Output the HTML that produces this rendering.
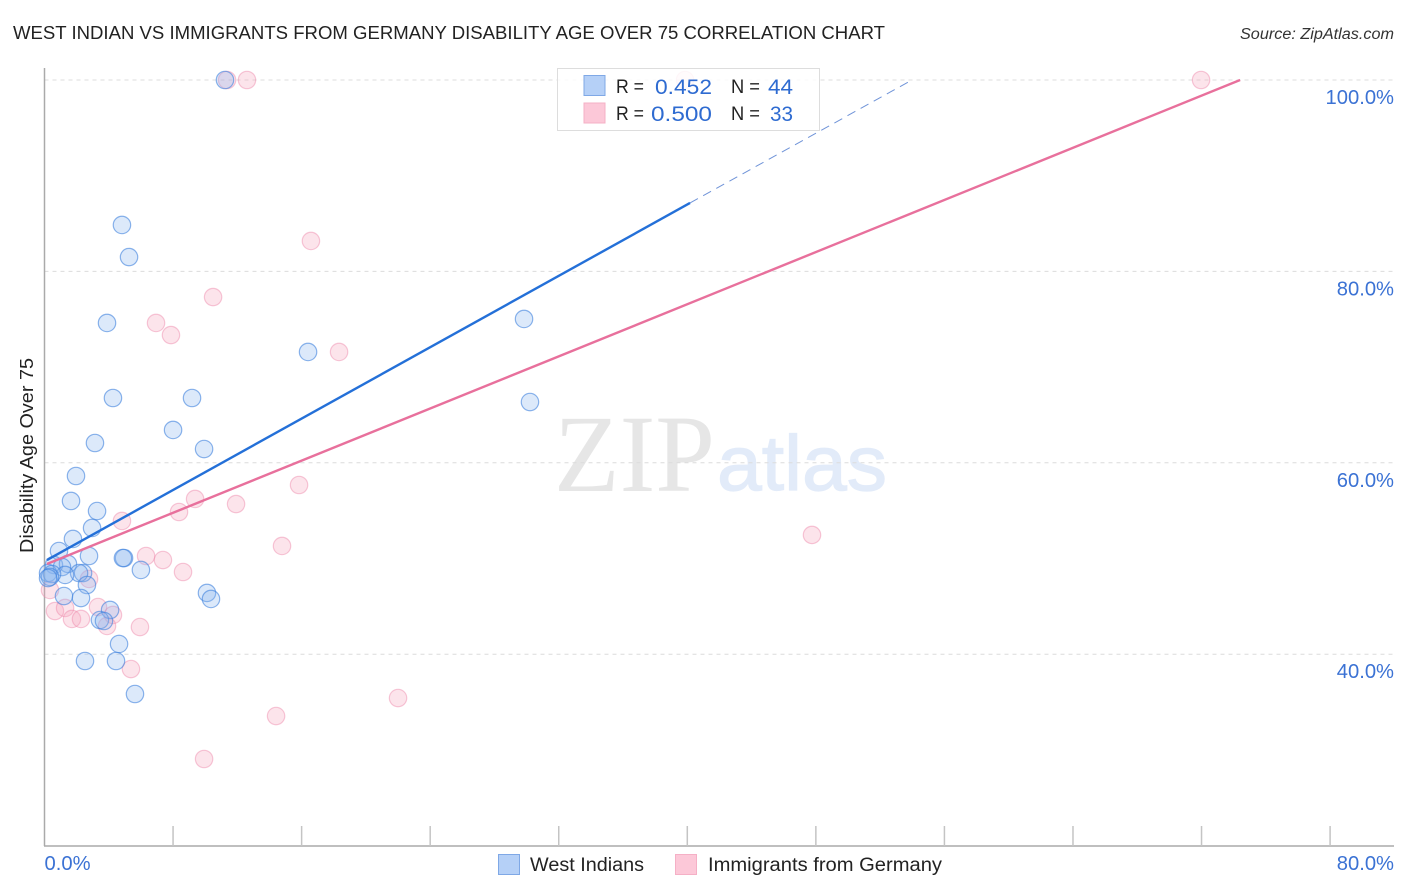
<!DOCTYPE html>
<html lang="en">
<head>
<meta charset="utf-8">
<title>West Indian vs Immigrants from Germany Disability Age Over 75 Correlation Chart</title>
<style>
html,body{margin:0;padding:0;background:#fff;width:1406px;height:892px;overflow:hidden}
svg{display:block;font-family:"Liberation Sans",sans-serif}
</style>
</head>
<body>
<svg id="chart" width="1406" height="892" viewBox="0 0 1406 892" xmlns="http://www.w3.org/2000/svg">
  <text x="13" y="39" font-size="18.5" fill="#222" textLength="872" lengthAdjust="spacingAndGlyphs">WEST INDIAN VS IMMIGRANTS FROM GERMANY DISABILITY AGE OVER 75 CORRELATION CHART</text>
  <text x="1394" y="39" font-size="15.5" font-style="italic" fill="#333" text-anchor="end" textLength="154" lengthAdjust="spacingAndGlyphs">Source: ZipAtlas.com</text>
  <g>
    <text x="554" y="491" font-family="'Liberation Serif',serif" font-size="110" fill="#e6e6e6" textLength="161" lengthAdjust="spacingAndGlyphs">ZIP</text>
    <text x="717" y="490" font-size="78" fill="#e2ebf9" stroke="#e2ebf9" stroke-width="1.2" textLength="170" lengthAdjust="spacingAndGlyphs">atlas</text>
  </g>
  <g id="grid"></g>
  <g id="axes"></g>
  <g id="pink-points"></g>
  <g id="blue-points"></g>
  <g id="trends"></g>
  <text transform="translate(33,553) rotate(-90)" font-size="18" fill="#222" textLength="195" lengthAdjust="spacingAndGlyphs">Disability Age Over 75</text>
  <g id="tick-labels"></g>
  <g>
    <rect x="557.5" y="68.5" width="262" height="62" fill="#fff" fill-opacity="0.85" stroke="#ddd" stroke-width="1"/>
    <rect x="584" y="75.5" width="21" height="20" fill="#b5d0f7" stroke="#7fa8e6"/>
    <rect x="584" y="103" width="21" height="20" fill="#fcc8d8" stroke="#f5b0c6"/>
    <text x="616" y="93" font-size="19" fill="#222" textLength="28" lengthAdjust="spacingAndGlyphs">R =</text>
    <text x="655" y="94" font-size="21" fill="#2e6bd1" textLength="57" lengthAdjust="spacingAndGlyphs">0.452</text>
    <text x="731" y="93" font-size="19" fill="#222" textLength="29" lengthAdjust="spacingAndGlyphs">N =</text>
    <text x="768" y="94" font-size="21" fill="#2e6bd1" textLength="25" lengthAdjust="spacingAndGlyphs">44</text>
    <text x="616" y="120" font-size="19" fill="#222" textLength="28" lengthAdjust="spacingAndGlyphs">R =</text>
    <text x="651" y="121" font-size="21" fill="#2e6bd1" textLength="61" lengthAdjust="spacingAndGlyphs">0.500</text>
    <text x="731" y="120" font-size="19" fill="#222" textLength="29" lengthAdjust="spacingAndGlyphs">N =</text>
    <text x="770" y="121" font-size="21" fill="#2e6bd1" textLength="23" lengthAdjust="spacingAndGlyphs">33</text>
  </g>
  <g>
    <rect x="498.5" y="854.5" width="21" height="20" fill="#b5d0f7" stroke="#7fa8e6"/>
    <text x="530" y="871" font-size="19" fill="#222" textLength="114" lengthAdjust="spacingAndGlyphs">West Indians</text>
    <rect x="675.5" y="854.5" width="21" height="20" fill="#fcc8d8" stroke="#f5b0c6"/>
    <text x="708" y="871" font-size="19" fill="#222" textLength="234" lengthAdjust="spacingAndGlyphs">Immigrants from Germany</text>
  </g>
</svg>
<script>
const yTickValues = [100, 80, 60, 40];
const yTickLabels = ['100.0%', '80.0%', '60.0%', '40.0%'];
const xTickValues = [8, 16, 24, 32, 40, 48, 56, 64, 72, 80];
const xEndValues = [0, 80];
const xEndLabels = ['0.0%', '80.0%'];

const blueX = [4.82,5.26,3.89,4.26,9.18,8.0,3.14,9.93,1.96,1.65,3.27,2.96,1.77,0.90,2.77,4.95,4.88,6.0,0.59,1.46,1.09,2.40,2.15,1.28,0.22,0.47,0.34,0.22,2.64,10.11,10.36,1.21,2.27,4.08,3.45,3.70,4.64,2.52,4.45,5.63,16.40,29.84,30.21,11.23];
const blueY = [84.85,81.5,74.61,66.77,66.77,63.43,62.07,61.44,58.62,56.01,54.96,53.19,52.04,50.78,50.26,50.05,50.05,48.8,49.32,49.43,49.11,48.48,48.48,48.28,48.48,48.38,48.07,47.96,47.23,46.4,45.77,46.08,45.87,44.62,43.57,43.47,41.07,39.29,39.29,35.84,71.58,75.03,66.35,100];

const pinkX = [11.36,12.6,71.97,39.86,16.58,10.49,6.94,7.87,18.33,9.37,15.84,11.92,8.37,4.82,6.32,7.37,8.62,14.78,47.76,2.77,0.34,0.65,1.28,1.71,2.27,3.33,4.26,3.89,5.94,5.38,14.41,22.0,9.93];
const pinkY = [100,100,100,100,83.18,77.32,74.61,73.35,71.58,56.22,57.68,55.69,54.86,53.92,50.26,49.84,48.59,51.31,52.46,47.86,46.71,44.51,44.83,43.68,43.68,44.93,44.1,42.95,42.84,38.45,33.54,35.42,29.05];

const blueTrendX = [0.15, 40.17];
const blueTrendY = [49.84, 87.15];
const blueDashX = [40.17, 53.98];
const blueDashY = [87.15, 100];
const pinkTrendX = [0.15, 74.4];
const pinkTrendY = [49.43, 100];

const NS = 'http://www.w3.org/2000/svg';
function xScale(v) { return 44.5 + v * 16.07; }
function yScale(v) { return 80 + (100 - v) * 9.57; }
function make(parentId, tag, attrs) {
  const el = document.createElementNS(NS, tag);
  for (const k in attrs) el.setAttribute(k, attrs[k]);
  document.getElementById(parentId).appendChild(el);
  return el;
}

yTickValues.forEach(function (v) {
  const el = make('grid', 'line', {x1: 44.5, x2: 1393, y1: yScale(v), y2: yScale(v), stroke: '#dcdcdc', 'stroke-width': 1, 'stroke-dasharray': '4 4'});
  
  
});

const axisY = make('axes', 'line', {x1: 44.5, x2: 44.5, y1: 68, y2: 846, stroke: '#aaa', 'stroke-width': 1.5});


const axisX = make('axes', 'line', {x1: 44, x2: 1394, y1: 846, y2: 846, stroke: '#aaa', 'stroke-width': 1.5});


xTickValues.forEach(function (v) {
  const el = make('axes', 'line', {x1: xScale(v), x2: xScale(v), y1: 826, y2: 846, stroke: '#c4c4c4', 'stroke-width': 1.5});
  
  
});

yTickValues.forEach(function (v, i) {
  const el = make('tick-labels', 'text', {x: 1394, y: yScale(v) + 24, 'text-anchor': 'end', 'font-size': 20.2, fill: '#3b72d4'});
  el.textContent = yTickLabels[i];
  
  
});
xEndValues.forEach(function (v, i) {
  const el = make('tick-labels', 'text', {x: i === 0 ? xScale(v) : 1394, y: 870, 'text-anchor': i === 0 ? 'start' : 'end', 'font-size': 20.2, fill: '#3b72d4'});
  el.textContent = xEndLabels[i];
  
  
});

pinkX.forEach(function (v, i) {
  const el = make('pink-points', 'circle', {cx: xScale(v), cy: yScale(pinkY[i]), r: 8.7, fill: '#f6a5bd', 'fill-opacity': 0.3, stroke: '#ee86a8', 'stroke-opacity': 0.45, 'stroke-width': 1.2});
  
  
});
blueX.forEach(function (v, i) {
  const el = make('blue-points', 'circle', {cx: xScale(v), cy: yScale(blueY[i]), r: 8.7, fill: '#8ab7f0', 'fill-opacity': 0.3, stroke: '#3f82dd', 'stroke-opacity': 0.6, 'stroke-width': 1.2});
  
  
});

const dash = make('trends', 'line', {x1: xScale(blueDashX[0]), y1: yScale(blueDashY[0]), x2: xScale(blueDashX[1]), y2: yScale(blueDashY[1]), stroke: '#6f93d8', 'stroke-width': 1, 'stroke-dasharray': '9 6'});


const blueLine = make('trends', 'line', {x1: xScale(blueTrendX[0]), y1: yScale(blueTrendY[0]), x2: xScale(blueTrendX[1]), y2: yScale(blueTrendY[1]), stroke: '#2470d8', 'stroke-width': 2.4});


const pinkLine = make('trends', 'line', {x1: xScale(pinkTrendX[0]), y1: yScale(pinkTrendY[0]), x2: xScale(pinkTrendX[1]), y2: yScale(pinkTrendY[1]), stroke: '#e8709c', 'stroke-width': 2.4});


</script>
</body>
</html>
